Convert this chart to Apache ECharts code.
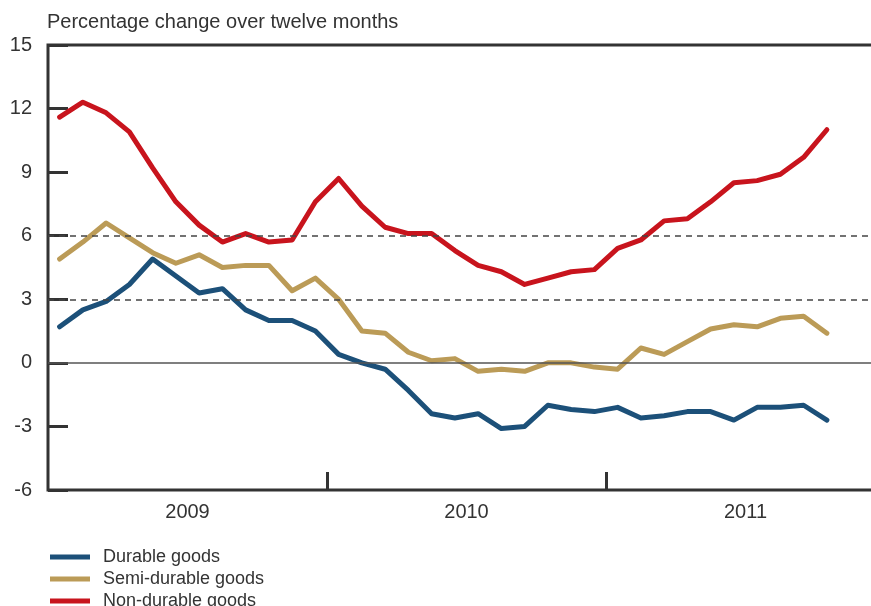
<!DOCTYPE html>
<html>
<head>
<meta charset="utf-8">
<script src="https://cdn.jsdelivr.net/npm/echarts@6/dist/echarts.min.js"></script>
<style>
  html, body { margin: 0; padding: 0; background: #ffffff; }
  #chart { width: 871px; height: 606px; }
</style>
</head>
<body>
<div id="chart"></div>
<script>
// months Jan 2009 .. Dec 2011
const months = [];
["2009", "2010", "2011"].forEach(y => {
  for (let m = 1; m <= 12; m++) months.push(y + "-" + (m < 10 ? "0" + m : m));
});
const years = ["2009", "2010", "2011"];

// twelve month % change, Jan 2009 .. Oct 2011
const durable = [1.7, 2.5, 2.9, 3.7, 4.9, 4.1, 3.3, 3.5, 2.5, 2.0, 2.0, 1.5,
  0.4, 0.0, -0.3, -1.3, -2.4, -2.6, -2.4, -3.1, -3.0, -2.0, -2.2, -2.3,
  -2.1, -2.6, -2.5, -2.3, -2.3, -2.7, -2.1, -2.1, -2.0, -2.7];
const semiDurable = [4.9, 5.7, 6.6, 5.9, 5.2, 4.7, 5.1, 4.5, 4.6, 4.6, 3.4, 4.0,
  3.0, 1.5, 1.4, 0.5, 0.1, 0.2, -0.4, -0.3, -0.4, 0.0, 0.0, -0.2,
  -0.3, 0.7, 0.4, 1.0, 1.6, 1.8, 1.7, 2.1, 2.2, 1.4];
const nonDurable = [11.6, 12.3, 11.8, 10.9, 9.2, 7.6, 6.5, 5.7, 6.1, 5.7, 5.8, 7.6,
  8.7, 7.4, 6.4, 6.1, 6.1, 5.3, 4.6, 4.3, 3.7, 4.0, 4.3, 4.4,
  5.4, 5.8, 6.7, 6.8, 7.6, 8.5, 8.6, 8.9, 9.7, 11.0];

const seriesNames = ["Durable goods", "Semi-durable goods", "Non-durable goods"];
const refLines = [3, 6];   // dashed
const zeroLine = 0;

const textColor = "#333333";
const font = "Liberation Sans";

let myChart = echarts.init(document.getElementById("chart"));

function lineSeries(name, data, color) {
  return {
    name: name,
    type: "line",
    xAxisIndex: 0,
    data: data,
    symbol: "none",
    z: 3,
    lineStyle: { color: color, width: 5, join: "round", cap: "round" },
    itemStyle: { color: color }
  };
}

// one legend per item so they stack without wrapping
let legends = seriesNames.map((n, i) => ({
  orient: "vertical",
  left: 50,
  top: 548 + i * 22,
  padding: 0,
  icon: "rect",
  itemWidth: 40,
  itemHeight: 5,
  textStyle: { fontSize: 18, color: textColor, fontFamily: font, padding: [0, 0, 0, 8] },
  data: [n]
}));

let option = {
  animation: false,
  textStyle: { fontFamily: font },
  title: {
    text: "Percentage change over twelve months",
    left: 47,
    top: 12,
    padding: 0,
    textStyle: { fontSize: 20, fontWeight: "normal", color: textColor, fontFamily: font }
  },
  legend: legends,
  grid: {
    left: 48,
    top: 45,
    width: 837,
    height: 445,
    outerBoundsMode: "none",
    show: true,
    borderColor: "#333333",
    borderWidth: 3,
    backgroundColor: "transparent"
  },
  xAxis: [
    {
      type: "category",
      data: months,
      boundaryGap: true,
      axisLine: { show: false, onZero: false },
      axisTick: {
        show: true,
        inside: true,
        length: 18,
        // year boundaries only
        interval: function (index) { return index > 0 && index % 12 === 0; },
        lineStyle: { color: "#333333", width: 3 }
      },
      axisLabel: { show: false },
      splitLine: { show: false }
    },
    {
      type: "category",
      data: years,
      position: "bottom",
      boundaryGap: true,
      axisLine: { show: false, onZero: false },
      axisTick: { show: false },
      axisLabel: { fontSize: 20, color: textColor, margin: 12, fontFamily: font },
      splitLine: { show: false }
    }
  ],
  yAxis: {
    type: "value",
    min: -6,
    max: 15,
    interval: 3,
    axisLine: { show: false },
    axisTick: { show: true, inside: true, length: 20, lineStyle: { color: "#333333", width: 3 } },
    axisLabel: { fontSize: 20, color: textColor, margin: 16, fontFamily: font },
    splitLine: { show: false }
  },
  series: [
    {
      name: "refs",
      type: "line",
      data: [],
      z: 1,
      silent: true,
      markLine: {
        silent: true,
        symbol: "none",
        label: { show: false },
        data: refLines.map(v => ({ yAxis: v, lineStyle: { type: [6, 5], color: "#444444", width: 1.5 } }))
          .concat([{ yAxis: zeroLine, lineStyle: { type: "solid", color: "#555555", width: 1.5 } }])
      }
    },
    lineSeries(seriesNames[0], durable, "#1c5079"),
    lineSeries(seriesNames[1], semiDurable, "#bb9b57"),
    lineSeries(seriesNames[2], nonDurable, "#c8141d")
  ]
};

myChart.setOption(option);
window.addEventListener("resize", function () {
  myChart.resize();
});
</script>
</body>
</html>
